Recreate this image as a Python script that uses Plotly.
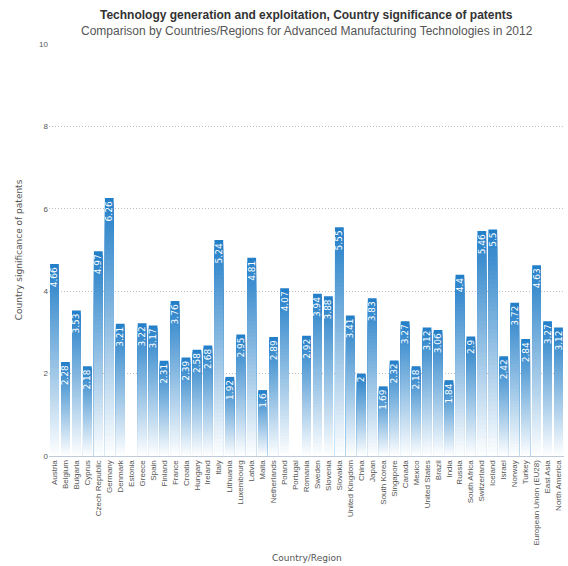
import numpy as np
import plotly.graph_objects as go

countries = [
    "Austria", "Belgium", "Bulgaria", "Cyprus", "Czech Republic", "Germany",
    "Denmark", "Estonia", "Greece", "Spain", "Finland", "France", "Croatia",
    "Hungary", "Ireland", "Italy", "Lithuania", "Luxembourg", "Latvia", "Malta",
    "Netherlands", "Poland", "Portugal", "Romania", "Sweden", "Slovenia",
    "Slovakia", "United Kingdom", "China", "Japan", "South Korea", "Singapore",
    "Canada", "Mexico", "United States", "Brazil", "India", "Russia",
    "South Africa", "Switzerland", "Iceland", "Israel", "Norway", "Turkey",
    "European Union (EU28)", "East Asia", "North America",
]
significance = [
    4.66, 2.28, 3.53, 2.18, 4.97, 6.26,
    3.21, None, 3.22, 3.17, 2.31, 3.76, 2.39,
    2.58, 2.68, 5.24, 1.92, 2.95, 4.81, 1.6,
    2.89, 4.07, None, 2.92, 3.94, 3.88,
    5.55, 3.41, 2, 3.83, 1.69, 2.32,
    3.27, 2.18, 3.12, 3.06, 1.84, 4.4,
    2.9, 5.46, 5.5, 2.42, 3.72, 2.84,
    4.63, 3.27, 3.12,
]
y_ticks = [0, 2, 4, 6, 8, 10]

TOP = np.array([34, 126, 200])      # bar colour at the top
BOTTOM = np.array([255, 255, 255])  # fades to white at the base
N_STEPS = 50
BAR_GAP = 0.2

vals = np.array([np.nan if v is None else v for v in significance], dtype=float)

fig = go.Figure()

# vertical gradient: overlapping bars from the base, each shorter one
# drawn on top in a lighter shade, so no seams show between steps
for k in range(N_STEPS):
    frac = 1 - k / N_STEPS
    t = 1 - (k + 0.5) / N_STEPS
    c = BOTTOM + (TOP - BOTTOM) * t
    fig.add_trace(go.Bar(
        x=countries,
        y=vals * frac,
        marker=dict(color=f"rgb({c[0]:.0f},{c[1]:.0f},{c[2]:.0f})", line=dict(width=0)),
        hoverinfo="skip",
        showlegend=False,
    ))

# full-height bar carrying the value labels
fig.add_trace(go.Bar(
    x=countries,
    y=vals,
    marker=dict(color="rgba(0,0,0,0)", line=dict(width=0)),
    text=[("" if v is None else f"{v:g}") for v in significance],
    textposition="inside",
    insidetextanchor="end",
    textangle=-90,
    textfont=dict(color="white", size=9, family="DejaVu Sans"),
    showlegend=False,
    hovertemplate="%{x}: %{y}<extra></extra>",
))

MARGIN = dict(l=49, r=4, t=44, b=110)
plot_h = 566 - MARGIN["t"] - MARGIN["b"]


def paper_y(py):
    """Convert a pixel row on the page to paper y."""
    return 1 - (py - MARGIN["t"]) / plot_h


fig.update_layout(
    width=568,
    height=566,
    barmode="overlay",
    bargap=BAR_GAP,
    plot_bgcolor="white",
    paper_bgcolor="white",
    margin=MARGIN,
    uniformtext=dict(minsize=8, mode="show"),
    font=dict(family="Liberation Sans", color="#555555"),
    annotations=[
        dict(text="<b>Technology generation and exploitation, Country significance of patents</b>",
             x=0.5, xref="paper", y=paper_y(15), yref="paper", yanchor="middle", showarrow=False,
             font=dict(family="Liberation Sans", size=12, color="#333333")),
        dict(text="Comparison by Countries/Regions for Advanced Manufacturing Technologies in 2012",
             x=0.5, xref="paper", y=paper_y(31), yref="paper", yanchor="middle", showarrow=False,
             font=dict(family="Liberation Sans", size=12, color="#555555")),
        dict(text="Country/Region",
             x=0.5, xref="paper", y=paper_y(558), yref="paper", yanchor="middle", showarrow=False,
             font=dict(family="DejaVu Sans", size=9, color="#555555")),
    ],
)

fig.update_xaxes(
    type="category",
    tickmode="array",
    tickvals=countries,
    tickangle=-90,
    tickfont=dict(size=8, color="#555555", family="Liberation Sans"),
    automargin=False,
    showgrid=False,
    showline=True,
    linecolor="#c0cad8",
    linewidth=1,
    ticks="",
    range=[-0.5, len(countries) - 0.5],
)
fig.update_yaxes(
    range=[0, 10],
    tickvals=y_ticks,
    tickfont=dict(size=8, color="#555555", family="Liberation Sans"),
    automargin=False,
    showgrid=True,
    gridcolor="#bdbdbd",
    griddash="1px,2px",
    gridwidth=1,
    zeroline=False,
    showline=False,
    ticks="",
    title=dict(text="Country significance of patents",
               font=dict(size=9, color="#555555", family="DejaVu Sans"), standoff=14),
)

fig.write_html("out.html")
